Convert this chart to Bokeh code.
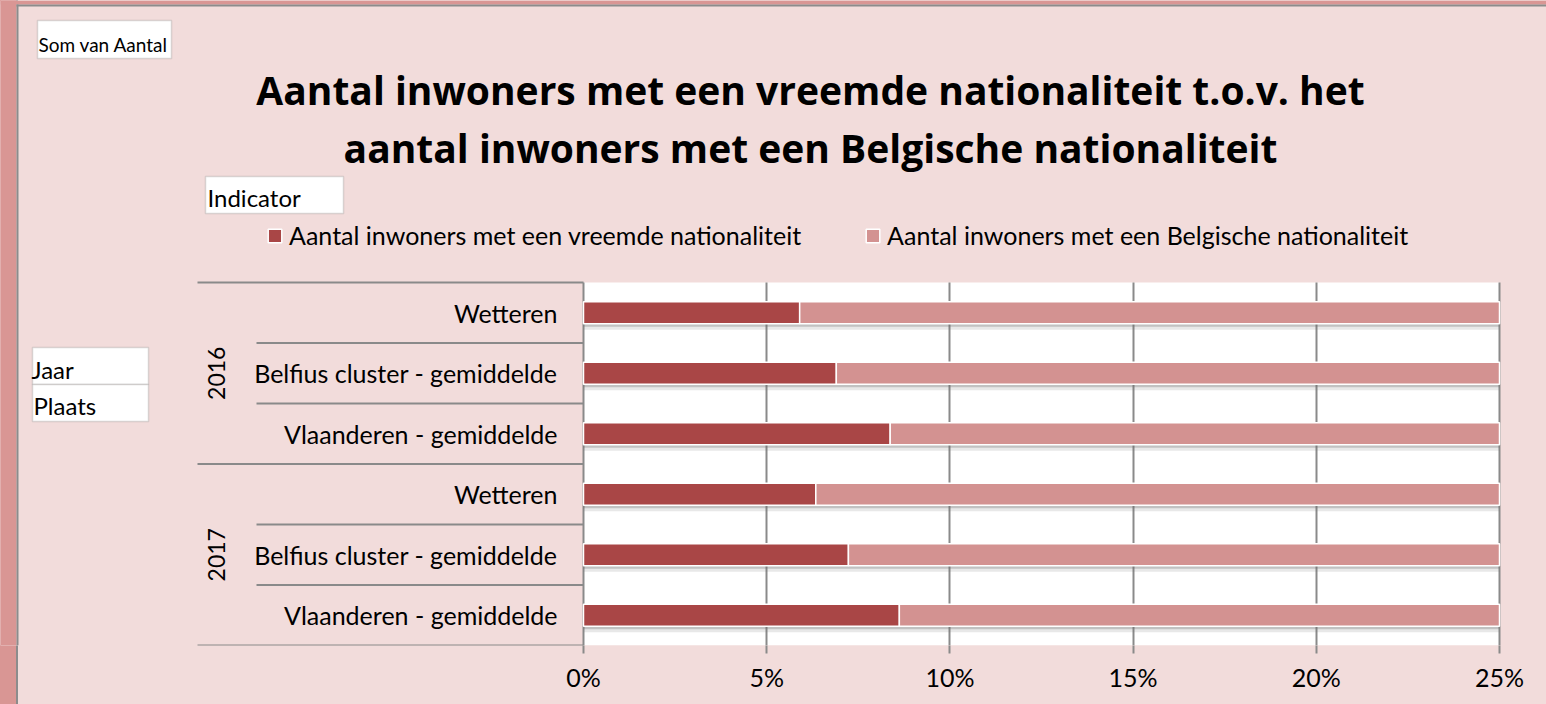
from bokeh.plotting import figure
from bokeh.models import (Range1d, FixedTicker, Label, BoxAnnotation,
                          Legend, LegendItem, ColumnDataSource)
from bokeh.transform import dodge
from bokeh.core.properties import value
from bokeh.embed import file_html
from bokeh.resources import INLINE
import math

# ---------------- data ----------------
jaren = ["2016", "2017"]
plaatsen = ["Wetteren", "Belfius cluster - gemiddelde", "Vlaanderen - gemiddelde"]
# share (%) per (jaar, plaats), order: 2016 W, B, V, 2017 W, B, V
vreemd = [5.90, 6.90, 8.37, 6.34, 7.23, 8.62]
belgisch = [94.10, 93.10, 91.63, 93.66, 92.77, 91.38]
series = ["Aantal inwoners met een vreemde nationaliteit",
          "Aantal inwoners met een Belgische nationaliteit"]
x_ticks = [0, 5, 10, 15, 20, 25]
x_tick_labels = ["0%", "5%", "10%", "15%", "20%", "25%"]
title_lines = ["Aantal inwoners met een vreemde nationaliteit t.o.v. het",
               "aantal inwoners met een Belgische nationaliteit"]
veld_labels = ["Som van Aantal", "Indicator", "Jaar", "Plaats"]

# ---------------- style / layout ----------------
FONT = "Lato"
TITLE_FONT = "Open Sans"
BG = "#f2dcdb"
STRIP = "#d99694"
DARK = "#a94646"
LIGHT = "#d39291"
GREY = "#8a8a8a"
LINE = "#8c8c8c"

W, H = 1546, 704
PX0, PX25 = 583, 1499          # pixel x of 0% and 25%
PY_TOP, PY_BOT = 282, 645      # pixel y of plot-area top / bottom
MB = H - PY_BOT

xmax = x_ticks[-1]
upx = xmax / (PX25 - PX0)       # data units per pixel (x)
n = len(plaatsen) * len(jaren)
row_px = (PY_BOT - PY_TOP) / n

x_range = Range1d(-PX0 * upx, (W - PX0) * upx)
y_range = Range1d(0, PY_BOT / row_px)

# rows: first record at the top; bars are cut off at the axis maximum
rows_y = [n - i - 0.5 for i in range(n)]
rows_label = [pl for j in jaren for pl in plaatsen]
einde_v = [min(a, xmax) for a in vreemd]
einde_b = [min(a + b, xmax) for a, b in zip(vreemd, belgisch)]
src = ColumnDataSource(dict(y=rows_y, label=rows_label, start=[0] * n,
                            einde_v=einde_v, einde_b=einde_b))

p = figure(width=W, height=H, output_backend="svg", toolbar_location=None,
           title=None, x_range=x_range, y_range=y_range,
           x_axis_location="below", y_axis_location=None,
           min_border_left=0, min_border_right=0, min_border_top=0,
           min_border_bottom=MB)
p.background_fill_color = BG
p.border_fill_color = BG
p.border_fill_alpha = 0
p.outline_line_color = None
p.styles = {"background": "linear-gradient(to right, %s 0px, %s 16px, %s 16px, %s 18px, %s 18px)"
            % (STRIP, STRIP, LINE, LINE, BG)}

# white plot area
p.add_layout(BoxAnnotation(left=0, right=xmax, bottom=0, top=n, level="image",
                           fill_color="white", fill_alpha=1, line_color=None))

# shadows under the bars
for off, a in [(-0.05, 0.32), (-0.10, 0.16)]:
    p.hbar(y=dodge("y", off), left="start", right="einde_b", height=0.36,
           source=src, fill_color="#6f6f6f", fill_alpha=a, line_color=None)

r_v = p.hbar(y="y", left="start", right="einde_v", height=0.36, source=src,
             fill_color=DARK, line_color="white", line_width=1.5)
r_b = p.hbar(y="y", left="einde_v", right="einde_b", height=0.36, source=src,
             fill_color=LIGHT, line_color="white", line_width=1.5)

# x axis + grid
p.xaxis.ticker = FixedTicker(ticks=x_ticks)
p.xaxis.major_label_overrides = {t: l for t, l in zip(x_ticks, x_tick_labels)}
p.xaxis.axis_line_color = None
p.xaxis.major_tick_in = 0
p.xaxis.major_tick_out = 8
p.xaxis.major_tick_line_color = GREY
p.xaxis.major_tick_line_width = 2
p.xaxis.minor_tick_line_color = None
p.xaxis.major_label_standoff = 8
p.xaxis.major_label_text_font = FONT
p.xaxis.major_label_text_font_size = "25px"
p.xaxis.major_label_text_color = "black"
p.xgrid.ticker = FixedTicker(ticks=x_ticks)
p.xgrid.grid_line_color = GREY
p.xgrid.grid_line_width = 2
p.xgrid.cross_bounds = (0, n)
p.ygrid.visible = False

# category labels (place + year) and separators
p.text(x="start", y="y", text="label", source=src, x_offset=-26,
       text_align="right", text_baseline="middle", text_font=value(FONT),
       text_font_size="25px", text_color="black")
k = len(plaatsen)
year_y = [sum(rows_y[i * k:(i + 1) * k]) / k for i in range(len(jaren))]
p.text(x=0, y=year_y, text=jaren, x_offset=-(PX0 - 216), angle=math.pi / 2,
       text_align="center", text_baseline="middle", text_font=value(FONT),
       text_font_size="23px", text_color="black")
sep_y = list(range(n + 1))
sep_x0 = [(197 - PX0) * upx if b % k == 0 else (256 - PX0) * upx for b in sep_y]
p.segment(x0=sep_x0, y0=sep_y, x1=0, y1=sep_y, line_color=GREY, line_width=2)

# helpers: reference pixel -> frame-relative screen units
def fx(X):
    return X

def fy(Y):
    return PY_BOT - Y

def sbox(l, t, r, b, **kw):
    return BoxAnnotation(left=fx(l), right=fx(r), top=fy(t), bottom=fy(b),
                         left_units="screen", right_units="screen",
                         top_units="screen", bottom_units="screen", **kw)

# outer pink strips
p.add_layout(sbox(0, 0, 16, PY_BOT, fill_color=STRIP, fill_alpha=1, line_color=None))
p.add_layout(sbox(0, 0, W, 4, fill_color=STRIP, fill_alpha=1, line_color=None))
p.add_layout(sbox(16, 4, 18, PY_BOT, fill_color=LINE, fill_alpha=1, line_color=None))
p.add_layout(sbox(16, 4, W, 6, fill_color=LINE, fill_alpha=1, line_color=None))

# title
for txt, yref in zip(title_lines, [89, 147]):
    p.add_layout(Label(x=fx(810), y=fy(yref), x_units="screen", y_units="screen",
                       text=txt, text_align="center", text_baseline="middle",
                       text_font=TITLE_FONT, text_font_style="bold",
                       text_font_size="39px", text_color="black"))

# field buttons
boxes = [(37, 20, 171, 58, 44, 38, 19), (205, 176, 343, 213, 197, 207, 24),
         (32, 347, 148, 384, 369, 31, 24), (32, 384, 148, 421, 405, 33, 24)]
for txt, (l, t, r, b, ty, tx, fs) in zip(veld_labels, boxes):
    p.add_layout(sbox(l, t, r, b, fill_color="white", fill_alpha=1,
                      line_color=LINE, line_width=1.5))
    p.add_layout(Label(x=fx(tx), y=fy(ty), x_units="screen", y_units="screen",
                       text=txt, text_align="left", text_baseline="middle",
                       text_font=FONT, text_font_size="%dpx" % fs,
                       text_color="black"))

# legend
legend = Legend(items=[LegendItem(label=s, renderers=[r]) for s, r in zip(series, [r_v, r_b])],
                orientation="horizontal", location=(fx(266), fy(235) - 15),
                background_fill_alpha=0, border_line_color=None, padding=0,
                margin=0, spacing=63, glyph_width=17, glyph_height=17,
                label_standoff=6, label_text_font=FONT,
                label_text_font_size="25px", label_text_color="black")
p.add_layout(legend, "center")

open("out.html", "w").write(file_html(p, INLINE))
